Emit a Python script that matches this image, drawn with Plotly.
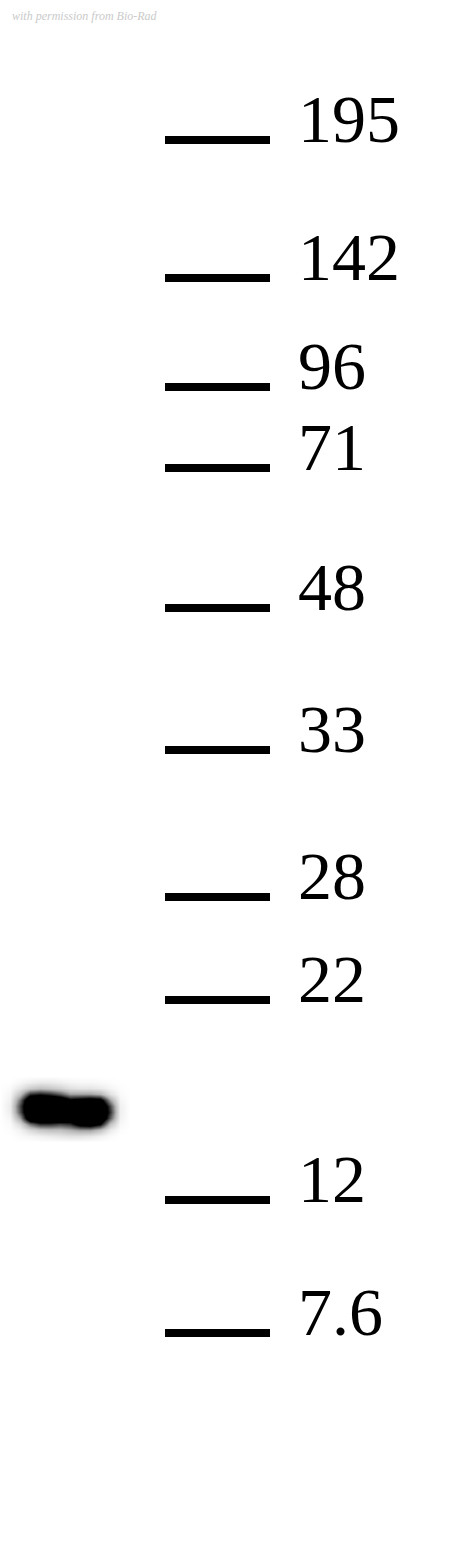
import plotly.graph_objects as go

# -----------------------------------
# DATA (read off the blot)
# -----------------------------------

# ladder: molecular weight (kDa) and migration distance from top of image
marker_kda = ["195", "142", "96", "71", "48", "33", "28", "22", "12", "7.6"]
marker_migration = [140, 278, 387, 468, 608, 750, 897, 1000, 1200, 1333]

# sample band, sampled signal intensity (0 = none, 1 = saturated)
band_lane_pos = [0, 10, 20, 30, 40, 50, 60, 70, 80, 90, 100, 110, 120, 130, 140]
band_migration = [1076, 1082, 1088, 1094, 1100, 1106, 1112, 1118, 1124, 1130, 1136, 1142]
band_intensity = [
    [0, 0, 0, 0, 0, 0, 0, 0, 0, 0, 0, 0, 0, 0, 0],
    [0, 0, 0.03, 0.06, 0.08, 0.08, 0.06, 0.04, 0.03, 0.03, 0.02, 0.01, 0, 0, 0],
    [0, 0.02, 0.10, 0.20, 0.25, 0.22, 0.18, 0.12, 0.10, 0.10, 0.08, 0.04, 0.01, 0, 0],
    [0, 0.04, 0.25, 0.60, 0.65, 0.60, 0.50, 0.35, 0.35, 0.35, 0.30, 0.12, 0.02, 0, 0],
    [0, 0.06, 0.45, 0.98, 1, 1, 0.95, 0.75, 0.80, 0.85, 0.80, 0.35, 0.04, 0, 0],
    [0, 0.08, 0.55, 1, 1, 1, 1, 1, 1, 1, 1, 0.55, 0.06, 0, 0],
    [0, 0.07, 0.52, 1, 1, 1, 1, 1, 1, 1, 1, 0.60, 0.06, 0, 0],
    [0, 0.04, 0.35, 0.95, 1, 1, 1, 0.90, 1, 1, 1, 0.50, 0.05, 0, 0],
    [0, 0.02, 0.15, 0.45, 0.60, 0.60, 0.55, 0.60, 0.80, 0.85, 0.70, 0.25, 0.03, 0, 0],
    [0, 0.01, 0.05, 0.15, 0.22, 0.25, 0.25, 0.30, 0.35, 0.35, 0.25, 0.08, 0.01, 0, 0],
    [0, 0, 0.02, 0.04, 0.06, 0.08, 0.10, 0.12, 0.12, 0.10, 0.06, 0.02, 0, 0, 0],
    [0, 0, 0, 0, 0, 0, 0, 0, 0, 0, 0, 0, 0, 0, 0],
]

# -----------------------------------
# SETTINGS
# -----------------------------------

W, H = 450, 1555
ladder_x = (165, 270)     # left / right end of ladder ticks
label_x = 296
serif = "Liberation Serif, Times New Roman, serif"

fig = go.Figure()

# blot signal
fig.add_trace(go.Heatmap(
    x=band_lane_pos, y=band_migration, z=band_intensity,
    zmin=0, zmax=1, zsmooth="best", showscale=False, hoverinfo="skip",
    colorscale=[[0, "#ffffff"], [0.3, "#b4b4b4"], [0.7, "#000000"], [1, "#000000"]]))

# ladder ticks
xs, ys = [], []
for m in marker_migration:
    xs += [ladder_x[0], ladder_x[1], None]
    ys += [m, m, None]
fig.add_trace(go.Scatter(x=xs, y=ys, mode="lines", hoverinfo="skip",
                         line=dict(color="#000000", width=8)))

# ladder labels
for kda, m in zip(marker_kda, marker_migration):
    fig.add_annotation(x=label_x, y=m, text=kda, showarrow=False,
                       xanchor="left", yanchor="middle", yshift=21,
                       font=dict(family=serif, size=68, color="#000000"))

# watermark
fig.add_annotation(x=10, y=16, text="<i>with permission from Bio-Rad</i>", showarrow=False,
                   xanchor="left", yanchor="middle",
                   font=dict(family=serif, size=12, color="#cacaca"))

fig.update_xaxes(range=[0, W], visible=False, fixedrange=True)
fig.update_yaxes(range=[H, 0], visible=False, fixedrange=True)
fig.update_layout(width=W, height=H, margin=dict(l=0, r=0, t=0, b=0),
                  paper_bgcolor="#ffffff", plot_bgcolor="#ffffff",
                  showlegend=False, hovermode=False)

# drop the default page margin so the figure sits at the window's corner
fig.write_html("out.html", config={"displayModeBar": False},
               post_script="document.body.style.margin = '0';")
